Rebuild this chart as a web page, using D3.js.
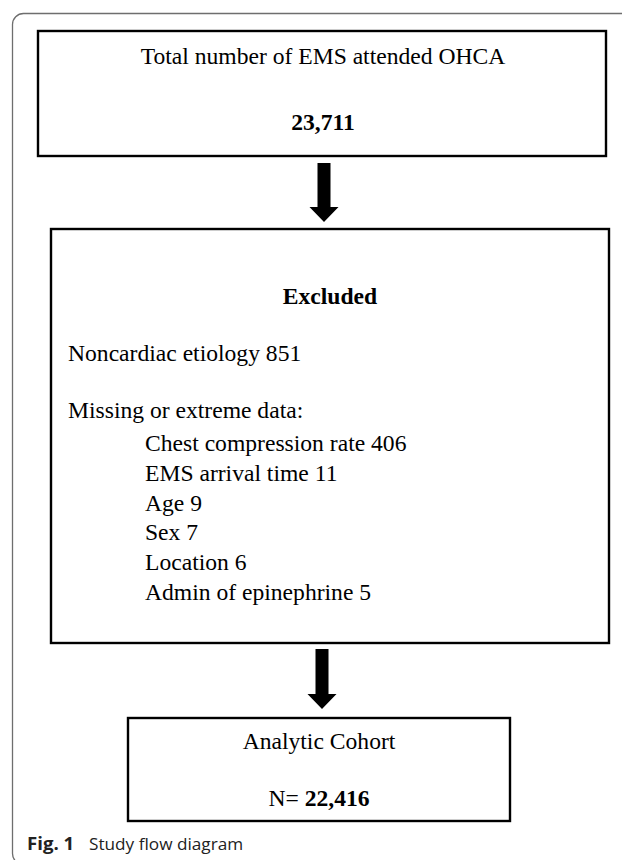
<!DOCTYPE html>
<html><head><meta charset="utf-8">
<script src="https://cdn.jsdelivr.net/npm/d3@7"></script>
<style>html,body{margin:0;padding:0;background:#fff;}svg{display:block;}</style>
</head><body>
<svg id="c" width="622" height="860"></svg>
<script>
const topTitle = "Total number of EMS attended OHCA";
const topCount = "23,711";
const excludedTitle = "Excluded";
const excludedMain = ["Noncardiac etiology 851", "Missing or extreme data:"];
const missingItems = ["Chest compression rate 406", "EMS arrival time 11", "Age 9", "Sex 7", "Location 6", "Admin of epinephrine 5"];
const cohortTitle = "Analytic Cohort";
const cohortPrefix = "N= ";
const cohortCount = "22,416";
const captionBold = "Fig. 1";
const captionText = "Study flow diagram";

const svg = d3.select("#c");
const serif = "'Liberation Serif','Times New Roman',serif";
const fs = 23.6;

// outer frame
svg.append("rect").attr("x",12.5).attr("y",13.5).attr("width",640).attr("height",851)
  .attr("rx",11).attr("fill","none").attr("stroke","#6e6e6e").attr("stroke-width",1.3);

const boxes = [
  {x:38, y:31, w:568, h:125},
  {x:51, y:229, w:558, h:414},
  {x:128, y:718, w:382, h:103}
];
svg.selectAll("rect.box").data(boxes).enter().append("rect").attr("class","box")
  .attr("x",d=>d.x).attr("y",d=>d.y).attr("width",d=>d.w).attr("height",d=>d.h)
  .attr("fill","none").attr("stroke","#000").attr("stroke-width",2.4);

const arrows = [{cx:324, y0:163, y1:222},{cx:322, y0:649, y1:709}];
svg.selectAll("path.arrow").data(arrows).enter().append("path").attr("class","arrow")
  .attr("d", d => {
    const sw=6.5, hw=14.5, hl=15;
    return `M${d.cx-sw},${d.y0} L${d.cx+sw},${d.y0} L${d.cx+sw},${d.y1-hl} L${d.cx+hw},${d.y1-hl} L${d.cx},${d.y1} L${d.cx-hw},${d.y1-hl} L${d.cx-sw},${d.y1-hl} Z`;
  }).attr("fill","#000");

function txt(x,y,s,opts={}){
  return svg.append("text").attr("x",x).attr("y",y).text(s)
    .attr("font-family",opts.family||serif).attr("font-size",opts.size||fs)
    .attr("font-weight",opts.bold?"bold":"normal")
    .attr("text-anchor",opts.anchor||"start").attr("fill","#000");
}
txt(323,64,topTitle,{anchor:"middle"});
txt(323,130,topCount,{anchor:"middle",bold:true});
txt(330,304,excludedTitle,{anchor:"middle",bold:true});
svg.selectAll("text.main").data(excludedMain).enter().append("text").attr("class","main")
  .attr("x",68).attr("y",(d,i)=>361+i*57).text(d=>d)
  .attr("font-family",serif).attr("font-size",fs);
svg.selectAll("text.miss").data(missingItems).enter().append("text").attr("class","miss")
  .attr("x",145).attr("y",(d,i)=>451+i*29.8).text(d=>d)
  .attr("font-family",serif).attr("font-size",fs);
txt(319,749,cohortTitle,{anchor:"middle"});
const t = svg.append("text").attr("x",319).attr("y",806).attr("text-anchor","middle")
  .attr("font-family",serif).attr("font-size",fs);
t.append("tspan").text(cohortPrefix);
t.append("tspan").attr("font-weight","bold").text(cohortCount);

const cap = svg.append("text").attr("x",27).attr("y",850)
  .attr("font-family","'Open Sans','Noto Sans',sans-serif").attr("font-size",17.2).attr("fill","#222");
cap.append("tspan").attr("font-weight","bold").attr("font-size",18.6).text(captionBold);
cap.append("tspan").attr("x",89).text(captionText);
</script>
</body></html>
